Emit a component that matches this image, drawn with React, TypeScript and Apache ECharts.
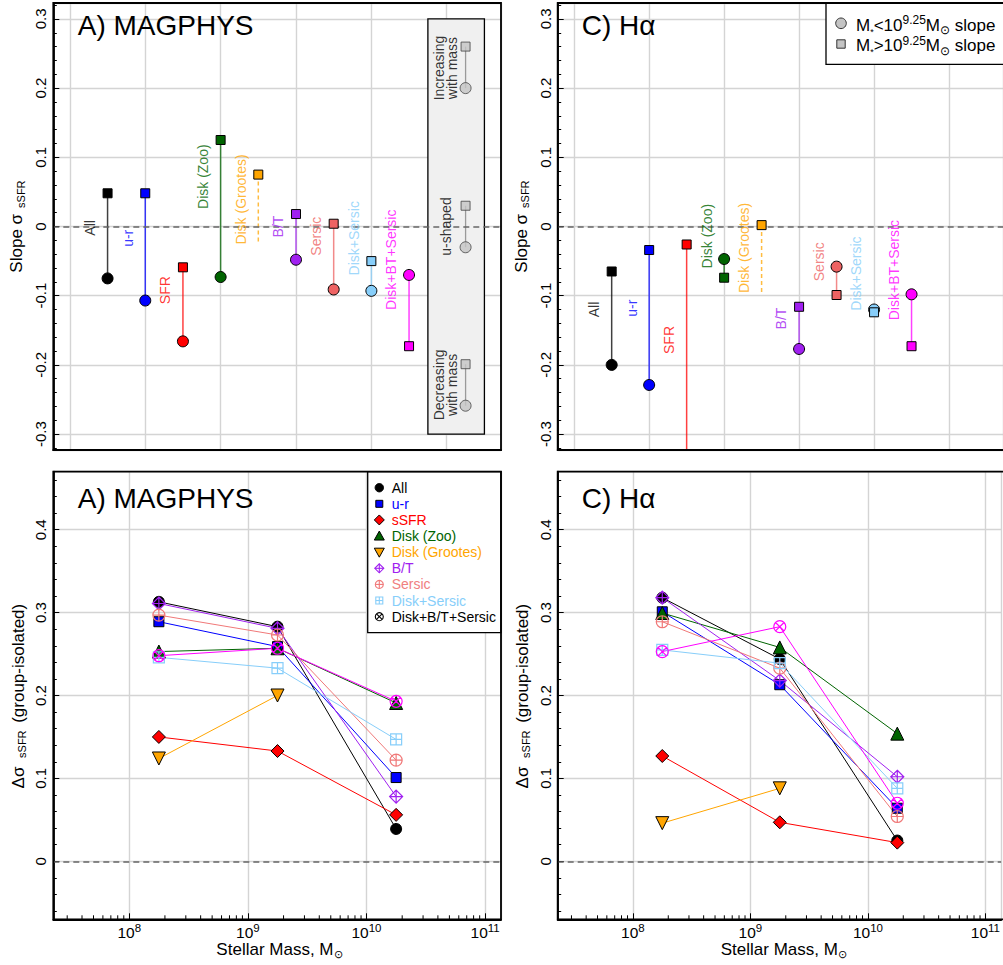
import React, { useEffect, useRef } from "react";
import * as echarts from "echarts";

const FONT = "'Liberation Sans', Arial, Helvetica, sans-serif";
const GRID_COLOR = "#d4d4d4";

// ===== Top row: slope of sigma_sSFR per classification =====
const slopeCategories = ["All", "u-r", "SFR", "Disk (Zoo)", "Disk (Grootes)", "B/T", "Sersic", "Disk+Sersic", "Disk+BT+Sersic"];
const slopePositions = [1, 2, 3, 4, 5, 6, 7, 8, 9];
const slopeColors = ["#000000", "#0000ff", "#ff0000", "#006400", "#ffa500", "#a020f0", "#ee6363", "#87cefa", "#ff00ff"];

// A) MAGPHYS
const magphysSlopeLowMass = [-0.075, -0.107, -0.166, -0.073, null, -0.048, -0.091, -0.093, -0.070];
const magphysSlopeHighMass = [0.048, 0.048, -0.059, 0.125, 0.075, 0.018, 0.004, -0.050, -0.173];
const magphysGrootesLineEnd = -0.024;
const magphysLabelY = [-0.002, -0.017, -0.092, 0.072, 0.039, 0.0, -0.014, -0.017, -0.048];

// C) H-alpha
const halphaSlopeLowMass = [-0.200, -0.229, -0.45, -0.047, null, -0.177, -0.058, -0.120, -0.098];
const halphaSlopeHighMass = [-0.065, -0.034, -0.026, -0.074, 0.002, -0.116, -0.099, -0.124, -0.173];
const halphaGrootesLineEnd = -0.099;
const halphaLabelY = [-0.120, -0.118, -0.164, -0.014, -0.031, -0.133, -0.051, -0.068, -0.063];

// key inside the grey box (panel A)
const keyLabels = ["Increasing\nwith mass", "u-shaped", "Decreasing\nwith mass"];
const keyLowMass = [0.200, -0.030, -0.259];
const keyHighMass = [0.260, 0.030, -0.199];
const keyLabelY = [0.229, 0.0, -0.229];

// ===== Bottom row: delta sigma_sSFR vs stellar mass =====
const logMass = [8.25, 9.25, 10.25];
const deltaNames = ["All", "u-r", "sSFR", "Disk (Zoo)", "Disk (Grootes)", "B/T", "Sersic", "Disk+Sersic", "Disk+B/T+Sersic"];

const magAll = [0.313, 0.283, 0.039];
const magUR = [0.289, 0.259, 0.101];
const magSSFR = [0.150, 0.133, 0.056];
const magDiskZoo = [0.253, 0.257, 0.191];
const magDiskGrootes = [0.124, 0.200, null];
const magBT = [0.311, 0.281, 0.078];
const magSersic = [0.297, 0.273, 0.122];
const magDiskSersic = [0.246, 0.233, 0.147];
const magDiskBTSersic = [0.248, 0.257, 0.193];

const haAll = [0.318, 0.244, 0.025];
const haUR = [0.301, 0.213, 0.064];
const haSSFR = [0.127, 0.047, 0.0225];
const haDiskZoo = [0.2995, 0.258, 0.154];
const haDiskGrootes = [0.046, 0.088, null];
const haBT = [0.318, 0.218, 0.102];
const haSersic = [0.289, 0.233, 0.054];
const haDiskSersic = [0.255, 0.239, 0.088];
const haDiskBTSersic = [0.253, 0.283, 0.070];

const deltaColors = ["#000000", "#0000ff", "#ff0000", "#006400", "#ffa500", "#a020f0", "#f07878", "#87cefa", "#ff00ff"];
const legendTextColors = ["#000000", "#0000ff", "#ff0000", "#006400", "#ffa500", "#a020f0", "#f08080", "#87cefa", "#000000"];
const legendKinds = ["circle", "rect", "diamond", "triangle", "triangleDown", "diamondPlus", "circlePlus", "squarePlus", "circleX"];

const CIRCLE_PLUS = "path://M0,-10A10,10,0,1,1,0,10A10,10,0,1,1,0,-10ZM-10,0L10,0M0,-10L0,10";
const CIRCLE_X = "path://M0,-10A10,10,0,1,1,0,10A10,10,0,1,1,0,-10ZM-7.07,-7.07L7.07,7.07M-7.07,7.07L7.07,-7.07";
const DIAMOND_PLUS = "path://M0,-10L10,0L0,10L-10,0ZM-10,0L10,0M0,-10L0,10";
const SQUARE_PLUS = "path://M-10,-10L10,-10L10,10L-10,10ZM-10,0L10,0M0,-10L0,10";

const deltaSymbols: any[] = [
  { symbol: "circle", size: 11, filled: true },
  { symbol: "rect", size: 10, filled: true },
  { symbol: "diamond", size: 13, filled: true },
  { symbol: "triangle", size: 13, filled: true },
  { symbol: "triangle", size: 13, filled: true, rotate: 180 },
  { symbol: DIAMOND_PLUS, size: 13, filled: false },
  { symbol: CIRCLE_PLUS, size: 12, filled: false },
  { symbol: SQUARE_PLUS, size: 11, filled: false },
  { symbol: CIRCLE_X, size: 12, filled: false },
];

// ===== layout =====
const GRIDS = [
  { left: 53.3, top: 3, width: 447.7, height: 447 },
  { left: 557.7, top: 3, width: 447.7, height: 447 },
  { left: 53.3, top: 471.7, width: 447.7, height: 447.6 },
  { left: 557.7, top: 471.7, width: 447.7, height: 447.6 },
];
const SLOPE_X = [-0.44, 11.44];
const SLOPE_Y = [-0.323, 0.323];
const MASS_X = [7.36, 11.134];
const DELTA_Y = [-0.07, 0.47];
const LABEL_SHIFT = -0.47;
const KEY_X = 10.5;
const KEY_LABEL_X = 9.97;
const PANEL_DX = 504.4;

const segmentRenderer = (colors: string[], width: number, opacity: number) => (params: any, api: any) => {
  const idx = api.value(3);
  const dashed = api.value(4) === 1;
  const a = api.coord([api.value(0), api.value(1)]);
  const b = api.coord([api.value(0), api.value(2)]);
  return {
    type: "line",
    shape: { x1: a[0], y1: a[1], x2: b[0], y2: b[1] },
    style: { stroke: colors[idx], lineWidth: width, opacity, lineDash: dashed ? [4, 3] : null },
  };
};

function zeroLine(axis: number) {
  return {
    type: "line",
    xAxisIndex: axis,
    yAxisIndex: axis,
    data: [],
    z: 2,
    silent: true,
    markLine: {
      silent: true,
      symbol: ["none", "none"],
      label: { show: false },
      lineStyle: { color: "#666666", type: [6, 4], width: 1.5 },
      data: [{ yAxis: 0 }],
    },
  };
}

function slopeSeries(axis: number, low: (number | null)[], high: number[], grootesEnd: number, labelY: number[]) {
  const segData = slopePositions.map((x, i) => [x, high[i], low[i] == null ? grootesEnd : low[i], i, low[i] == null ? 1 : 0]);
  const circleData = slopePositions.flatMap((x, i) =>
    low[i] == null ? [] : [{ value: [x, low[i]], itemStyle: { color: slopeColors[i] } }]
  );
  const squareData = slopePositions.map((x, i) => ({ value: [x, high[i]], itemStyle: { color: slopeColors[i] } }));
  const labelData = slopePositions.map((x, i) => ({
    value: [x + LABEL_SHIFT, labelY[i]],
    name: slopeCategories[i],
    label: { color: slopeColors[i] },
  }));
  return [
    zeroLine(axis),
    {
      type: "custom",
      xAxisIndex: axis,
      yAxisIndex: axis,
      clip: true,
      z: 3,
      silent: true,
      data: segData,
      renderItem: segmentRenderer(slopeColors, 1.5, 0.75),
    },
    {
      type: "scatter",
      xAxisIndex: axis,
      yAxisIndex: axis,
      symbol: "circle",
      symbolSize: 11,
      clip: true,
      z: 4,
      itemStyle: { borderColor: "#000", borderWidth: 1, opacity: 1 },
      data: circleData,
    },
    {
      type: "scatter",
      xAxisIndex: axis,
      yAxisIndex: axis,
      symbol: "rect",
      symbolSize: 9,
      clip: true,
      z: 5,
      itemStyle: { borderColor: "#000", borderWidth: 1, opacity: 1 },
      data: squareData,
    },
    {
      type: "scatter",
      xAxisIndex: axis,
      yAxisIndex: axis,
      symbolSize: 0,
      z: 5,
      silent: true,
      data: labelData,
      label: { show: true, position: "inside", rotate: 90, formatter: "{b}", fontSize: 14, fontFamily: FONT },
    },
  ];
}

function keySeries(axis: number) {
  const grey = ["#9a9a9a", "#9a9a9a", "#9a9a9a"];
  return [
    {
      type: "line",
      xAxisIndex: axis,
      yAxisIndex: axis,
      data: [],
      z: 1,
      silent: true,
      markArea: {
        silent: true,
        itemStyle: { color: "#f0f0f0", borderColor: "#000", borderWidth: 1.3 },
        data: [[{ coord: [9.5, 0.3] }, { coord: [11.0, -0.3] }]],
      },
    },
    {
      type: "custom",
      xAxisIndex: axis,
      yAxisIndex: axis,
      z: 3,
      silent: true,
      data: keyLowMass.map((lo, i) => [KEY_X, keyHighMass[i], lo, i, 0]),
      renderItem: segmentRenderer(grey, 1.3, 1),
    },
    {
      type: "scatter",
      xAxisIndex: axis,
      yAxisIndex: axis,
      symbol: "circle",
      symbolSize: 11,
      z: 4,
      itemStyle: { color: "#c4c4c4", borderColor: "#444", borderWidth: 1 },
      data: keyLowMass.map((v) => [KEY_X, v]),
    },
    {
      type: "scatter",
      xAxisIndex: axis,
      yAxisIndex: axis,
      symbol: "rect",
      symbolSize: 9,
      z: 5,
      itemStyle: { color: "#c4c4c4", borderColor: "#444", borderWidth: 1 },
      data: keyHighMass.map((v) => [KEY_X, v]),
    },
    {
      type: "scatter",
      xAxisIndex: axis,
      yAxisIndex: axis,
      symbolSize: 0,
      z: 5,
      silent: true,
      data: keyLabels.map((t, i) => ({ value: [KEY_LABEL_X, keyLabelY[i]], name: t })),
      label: {
        show: true,
        position: "inside",
        rotate: 90,
        formatter: "{b}",
        fontSize: 14,
        lineHeight: 12.5,
        color: "#000",
        fontFamily: FONT,
      },
    },
  ];
}

function deltaSeries(axis: number, values: (number | null)[][]) {
  const massMinorTicks: number[] = [];
  for (let n = 7; n <= 11; n++) {
    for (let k = 2; k <= 9; k++) {
      const v = n + Math.log10(k);
      if (v > MASS_X[0] && v < MASS_X[1]) massMinorTicks.push(v);
    }
  }
  const lines = values.map((vals, i) => {
    const sym = deltaSymbols[i];
    return {
      type: "line",
      name: deltaNames[i],
      xAxisIndex: axis,
      yAxisIndex: axis,
      z: 3,
      silent: true,
      data: logMass.flatMap((m, j) => (vals[j] == null ? [] : [[m, vals[j]]])),
      symbol: sym.symbol,
      symbolSize: sym.size,
      symbolRotate: sym.rotate || 0,
      showAllSymbol: true,
      lineStyle: { color: deltaColors[i], width: 1 },
      itemStyle: sym.filled
        ? { color: deltaColors[i], borderColor: "#000", borderWidth: 1 }
        : { color: "rgba(255,255,255,0)", borderColor: deltaColors[i], borderWidth: 1.2 },
    };
  });
  return [
    zeroLine(axis),
    ...lines,
    {
      type: "custom",
      xAxisIndex: axis,
      yAxisIndex: axis,
      clip: false,
      silent: true,
      z: 6,
      data: massMinorTicks.map((v) => [v]),
      renderItem: (params: any, api: any) => {
        const p = api.coord([api.value(0), DELTA_Y[0]]);
        return { type: "line", shape: { x1: p[0], y1: p[1], x2: p[0], y2: p[1] - 4 }, style: { stroke: "#000", lineWidth: 1 } };
      },
    },
  ];
}

const axisLineStyle = { show: true, onZero: false, lineStyle: { color: "#000", width: 1.8 } };
const splitLineStyle = { show: true, lineStyle: { color: GRID_COLOR, width: 1.4 } };

function slopeXAxis(grid: number) {
  return {
    type: "value",
    gridIndex: grid,
    min: SLOPE_X[0],
    max: SLOPE_X[1],
    minInterval: 2,
    maxInterval: 2,
    axisLine: axisLineStyle,
    axisTick: { show: false },
    axisLabel: { show: false },
    splitLine: splitLineStyle,
  };
}

function valueYAxis(grid: number, range: number[]) {
  return {
    type: "value",
    gridIndex: grid,
    min: range[0],
    max: range[1],
    minInterval: 0.1,
    maxInterval: 0.1,
    axisLine: axisLineStyle,
    axisTick: { show: true, inside: true, length: 6, lineStyle: { color: "#000", width: 1 } },
    minorTick: { show: true, splitNumber: 5, length: 3.5, lineStyle: { color: "#000", width: 1 } },
    axisLabel: {
      rotate: 90,
      fontSize: 15,
      color: "#000",
      fontFamily: FONT,
      margin: 5,
      showMinLabel: false,
      showMaxLabel: false,
    },
    splitLine: splitLineStyle,
  };
}

function massXAxis(grid: number) {
  return {
    type: "value",
    gridIndex: grid,
    min: MASS_X[0],
    max: MASS_X[1],
    minInterval: 1,
    maxInterval: 1,
    axisLine: axisLineStyle,
    axisTick: { show: true, inside: true, length: 6, lineStyle: { color: "#000", width: 1 } },
    axisLabel: {
      margin: 3,
      showMinLabel: false,
      showMaxLabel: false,
      formatter: (v: number) => `{b|10}{s|${Math.round(v)}}`,
      rich: {
        b: { fontSize: 15.5, lineHeight: 20, fontFamily: FONT, color: "#000" },
        s: { fontSize: 11.5, lineHeight: 11, verticalAlign: "top", fontFamily: FONT, color: "#000" },
      },
    },
    splitLine: splitLineStyle,
  };
}

function rotText(text: string, x: number, y: number, size: number) {
  return {
    type: "text",
    x,
    y,
    rotation: Math.PI / 2,
    z: 80,
    style: { text, fontSize: size, fontFamily: FONT, fill: "#000", align: "center", verticalAlign: "middle" },
  };
}

function plainText(text: string, x: number, y: number, size: number, align: string, color = "#000") {
  return {
    type: "text",
    x,
    y,
    z: 80,
    style: { text, fontSize: size, fontFamily: FONT, fill: color, align, verticalAlign: "middle" },
  };
}

function legendGlyph(kind: string, cx: number, cy: number, color: string) {
  const filled = { stroke: "#000", lineWidth: 1, fill: color };
  const open = { stroke: color, lineWidth: 1.1, fill: "none" };
  const seg = (x1: number, y1: number, x2: number, y2: number) => ({
    type: "line",
    z: 61,
    shape: { x1, y1, x2, y2 },
    style: { stroke: color, lineWidth: 1.1 },
  });
  const r = 4.5;
  switch (kind) {
    case "circle":
      return [{ type: "circle", z: 61, shape: { cx, cy, r: 4.2 }, style: filled }];
    case "rect":
      return [{ type: "rect", z: 61, shape: { x: cx - 3.5, y: cy - 3.5, width: 7, height: 7 }, style: filled }];
    case "diamond":
      return [{ type: "polygon", z: 61, shape: { points: [[cx, cy - 5], [cx + 5, cy], [cx, cy + 5], [cx - 5, cy]] }, style: filled }];
    case "triangle":
      return [{ type: "polygon", z: 61, shape: { points: [[cx, cy - 5], [cx + 5, cy + 4], [cx - 5, cy + 4]] }, style: filled }];
    case "triangleDown":
      return [{ type: "polygon", z: 61, shape: { points: [[cx - 5, cy - 4], [cx + 5, cy - 4], [cx, cy + 5]] }, style: filled }];
    case "diamondPlus":
      return [
        { type: "polygon", z: 61, shape: { points: [[cx, cy - r], [cx + r, cy], [cx, cy + r], [cx - r, cy]] }, style: open },
        seg(cx - r, cy, cx + r, cy),
        seg(cx, cy - r, cx, cy + r),
      ];
    case "circlePlus":
      return [
        { type: "circle", z: 61, shape: { cx, cy, r: 4 }, style: open },
        seg(cx - 4, cy, cx + 4, cy),
        seg(cx, cy - 4, cx, cy + 4),
      ];
    case "squarePlus":
      return [
        { type: "rect", z: 61, shape: { x: cx - 3.5, y: cy - 3.5, width: 7, height: 7 }, style: open },
        seg(cx - 3.5, cy, cx + 3.5, cy),
        seg(cx, cy - 3.5, cx, cy + 3.5),
      ];
    default:
      return [
        { type: "circle", z: 61, shape: { cx, cy, r: 4 }, style: open },
        seg(cx - 2.8, cy - 2.8, cx + 2.8, cy + 2.8),
        seg(cx - 2.8, cy + 2.8, cx + 2.8, cy - 2.8),
      ];
  }
}

function buildGraphic() {
  const els: any[] = [];
  // panel borders
  GRIDS.forEach((g) => {
    els.push({
      type: "rect",
      z: 100,
      shape: { x: g.left, y: g.top, width: g.width, height: g.height },
      style: { fill: "none", stroke: "#000", lineWidth: 1.8 },
    });
  });
  // panel titles
  els.push(plainText("A) MAGPHYS", 77.7, 25, 28, "left"));
  els.push(plainText("C) H\u03b1", 581.7, 25, 28, "left"));
  els.push(plainText("A) MAGPHYS", 77.7, 498.3, 28, "left"));
  els.push(plainText("C) H\u03b1", 581.7, 498.3, 28, "left"));
  // axis titles
  [0, PANEL_DX].forEach((dx) => {
    els.push(rotText("Slope \u03c3", 16.7 + dx, 243.3, 17));
    els.push(rotText("sSFR", 20.8 + dx, 194.2, 11));
    els.push(rotText("\u0394\u03c3", 18.3 + dx, 777.5, 17));
    els.push(rotText("sSFR", 21.5 + dx, 744.2, 11));
    els.push(rotText("(group-isolated)", 18.3 + dx, 663.3, 17));
    els.push(plainText("Stellar Mass, M", 333.5 + dx, 949, 17, "right"));
    els.push(plainText("\u2299", 334 + dx, 953.5, 11, "left"));
  });
  // top-right legend
  els.push({
    type: "rect",
    z: 50,
    shape: { x: 826, y: 3, width: 190, height: 61.3 },
    style: { fill: "#fff", stroke: "#000", lineWidth: 1.3 },
  });
  els.push({ type: "circle", z: 61, shape: { cx: 841, cy: 23.3, r: 5.3 }, style: { fill: "#c4c4c4", stroke: "#333", lineWidth: 1 } });
  els.push({ type: "rect", z: 61, shape: { x: 836.8, y: 39.8, width: 8.4, height: 8.4 }, style: { fill: "#c4c4c4", stroke: "#333", lineWidth: 1 } });
  const richLeg = {
    m: { fontSize: 17, lineHeight: 22, fontFamily: FONT, fill: "#000" },
    st: { fontSize: 9, lineHeight: 9, verticalAlign: "bottom", fontFamily: FONT, fill: "#000" },
    sup: { fontSize: 12, lineHeight: 12, verticalAlign: "top", fontFamily: FONT, fill: "#000" },
    sun: { fontSize: 12, lineHeight: 12, verticalAlign: "bottom", fontFamily: FONT, fill: "#000" },
  };
  [["<", 25], [">", 45.5]].forEach(([op, y]) => {
    els.push({
      type: "text",
      x: 856,
      y: y as number,
      z: 61,
      style: {
        text: `{m|M}{st|*}{m|${op}10}{sup|9.25}{m|M}{sun|\u2299}{m| slope}`,
        rich: richLeg,
        fontFamily: FONT,
        fontSize: 17,
        fill: "#000",
        align: "left",
        verticalAlign: "middle",
      },
    });
  });
  // bottom-left legend
  els.push({
    type: "rect",
    z: 50,
    shape: { x: 367.7, y: 471.7, width: 133.3, height: 161 },
    style: { fill: "#fff", stroke: "#000", lineWidth: 1.3 },
  });
  deltaNames.forEach((name, i) => {
    const y = 487.7 + i * 16.12;
    els.push(...legendGlyph(legendKinds[i], 379.3, y, i === 8 ? "#000" : deltaColors[i]));
    els.push({
      type: "text",
      x: 391.7,
      y,
      z: 61,
      style: { text: name, fontSize: 14, fontFamily: FONT, fill: legendTextColors[i], align: "left", verticalAlign: "middle" },
    });
  });
  return els;
}

function buildOption() {
  return {
    animation: false,
    backgroundColor: "#ffffff",
    textStyle: { fontFamily: FONT },
    grid: GRIDS.map((g) => ({ ...g, containLabel: false, show: false })),
    xAxis: [slopeXAxis(0), slopeXAxis(1), massXAxis(2), massXAxis(3)],
    yAxis: [valueYAxis(0, SLOPE_Y), valueYAxis(1, SLOPE_Y), valueYAxis(2, DELTA_Y), valueYAxis(3, DELTA_Y)],
    series: [
      ...keySeries(0),
      ...slopeSeries(0, magphysSlopeLowMass, magphysSlopeHighMass, magphysGrootesLineEnd, magphysLabelY),
      ...slopeSeries(1, halphaSlopeLowMass, halphaSlopeHighMass, halphaGrootesLineEnd, halphaLabelY),
      ...deltaSeries(2, [magAll, magUR, magSSFR, magDiskZoo, magDiskGrootes, magBT, magSersic, magDiskSersic, magDiskBTSersic]),
      ...deltaSeries(3, [haAll, haUR, haSSFR, haDiskZoo, haDiskGrootes, haBT, haSersic, haDiskSersic, haDiskBTSersic]),
    ],
    graphic: { elements: buildGraphic() },
  };
}

export default function App() {
  const ref = useRef<HTMLDivElement>(null);
  useEffect(() => {
    if (!ref.current) return;
    const chart = echarts.init(ref.current, null, { renderer: "svg" });
    chart.setOption(buildOption() as any);
    return () => chart.dispose();
  }, []);
  return (
    <div
      ref={ref}
      style={{ position: "absolute", left: 0, top: 0, width: 1003, height: 965, background: "#fff", overflow: "hidden" }}
    />
  );
}
